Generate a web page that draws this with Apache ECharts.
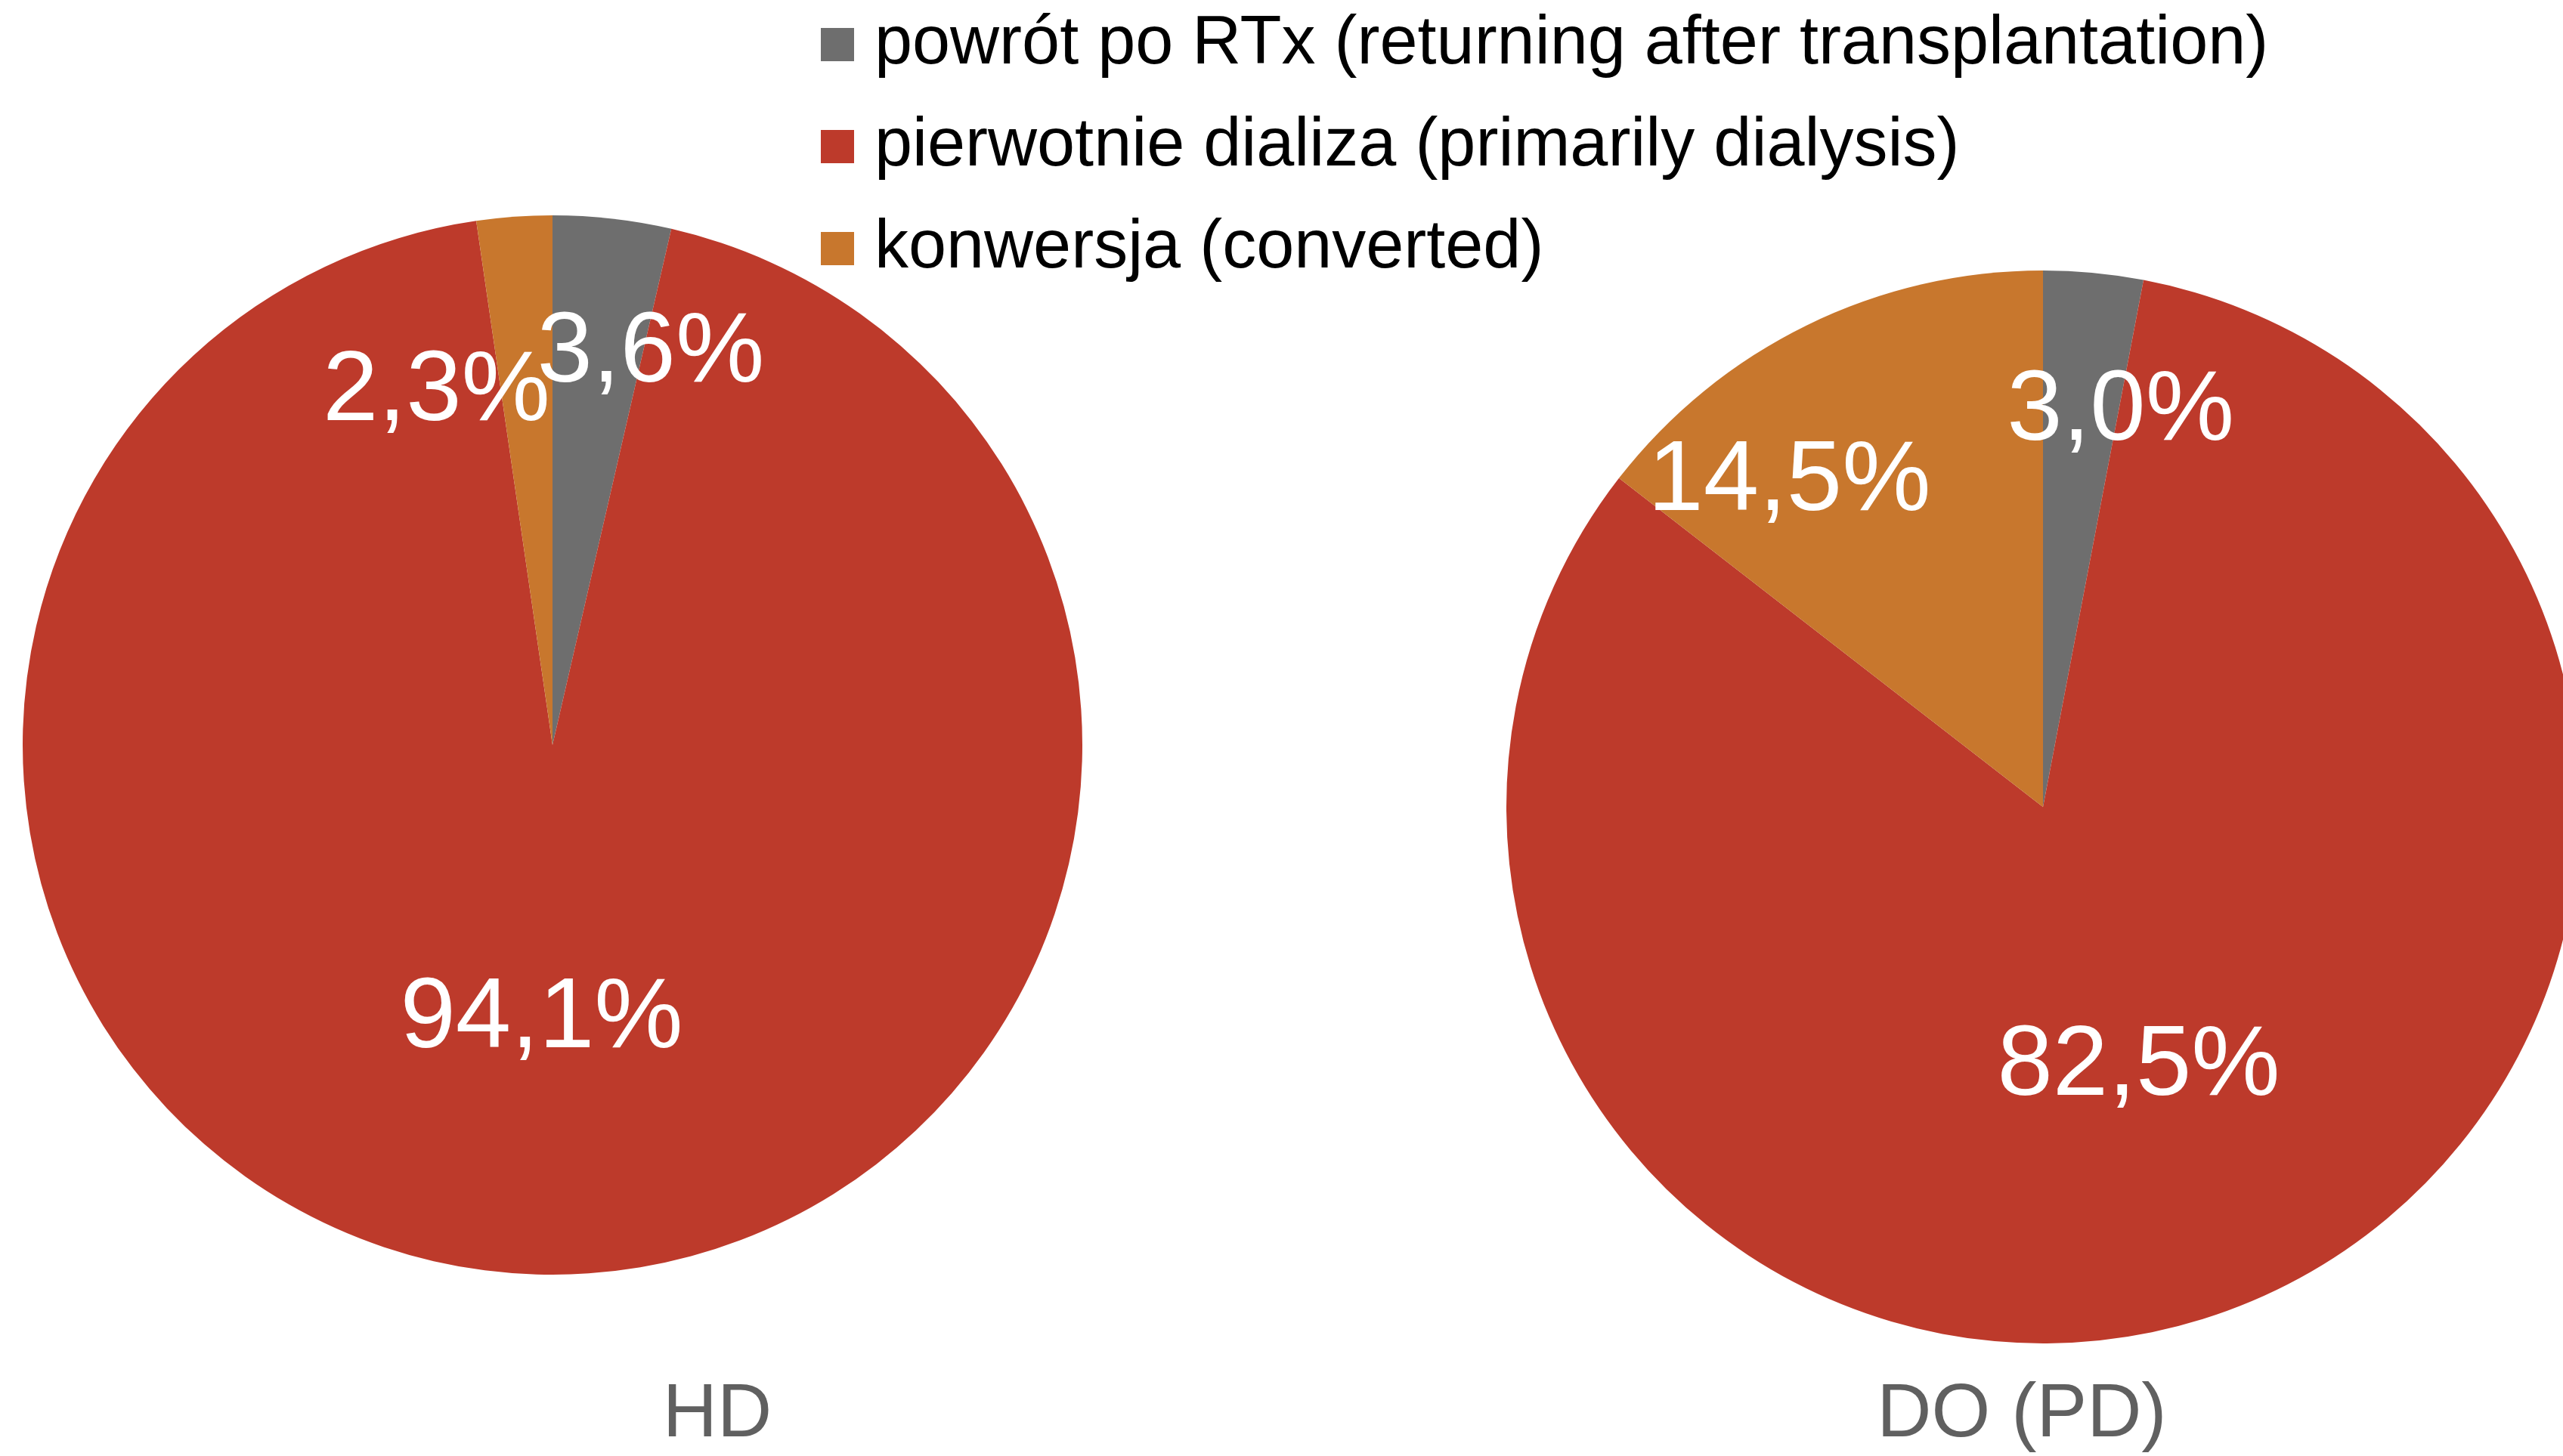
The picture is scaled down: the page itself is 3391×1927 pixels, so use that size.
<!DOCTYPE html>
<html>
<head>
<meta charset="utf-8">
<title>HD / DO (PD)</title>
<script src="https://cdn.jsdelivr.net/npm/echarts@6/dist/echarts.min.js"></script>
<style>
  html, body { margin: 0; padding: 0; background: #fff; }
  #chart { width: 3391px; height: 1927px; }
</style>
</head>
<body>
<div id="chart"></div>
<script>
// categories (legend order = slice order, clockwise from 12 o'clock)
var categories = [
  'powrót po RTx (returning after transplantation)',
  'pierwotnie dializa (primarily dialysis)',
  'konwersja (converted)'
];
var colors = ['#6e6e6e', '#bd3a2b', '#c8772d'];

// values in %
var hdValues = [3.6, 94.1, 2.3];
var pdValues = [3.0, 82.5, 14.5];

var pieTitles = ['HD', 'DO (PD)'];

// label nudges, like the source chart (small slices pushed apart)
var hdLabelOffsets = [[90, -166], [0, 10], [-128, -114]];
var pdLabelOffsets = [[69, -166], [0, 10], [-178, -108]];

function buildData (values, offsets) {
  return values.map(function (v, i) {
    return {
      name: categories[i],
      value: v,
      itemStyle: { color: colors[i] },
      label: { offset: offsets[i] }
    }
  })
}

function fmt (p) {
  return p.value.toFixed(1).replace('.', ',') + '%'
}

var FONT = '"Liberation Sans", Arial, Helvetica, sans-serif'

var pieBase = {
  type: 'pie',
  startAngle: 90,
  clockwise: true,
  avoidLabelOverlap: false,
  minShowLabelAngle: 0,
  silent: true,
  label: {
    show: true,
    position: 'inside',
    formatter: fmt,
    color: '#ffffff',
    fontSize: 132,
    fontFamily: FONT,
    overflow: 'none'
  },
  labelLayout: { hideOverlap: false },
  labelLine: { show: false },
  itemStyle: { borderWidth: 0 }
}

var chart = echarts.init(document.getElementById('chart'), null, { renderer: 'canvas' })

chart.setOption({
  animation: false,
  backgroundColor: '#ffffff',
  title: [
    {
      text: pieTitles[0],
      left: 944,
      top: 1818,
      textAlign: 'center',
      textStyle: { color: '#606060', fontSize: 100, fontWeight: 'normal', fontFamily: FONT }
    },
    {
      text: pieTitles[1],
      left: 2670,
      top: 1818,
      textAlign: 'center',
      textStyle: { color: '#606060', fontSize: 100, fontWeight: 'normal', fontFamily: FONT }
    }
  ],
  legend: {
    data: categories,
    orient: 'vertical',
    left: 1081,
    top: 9,
    icon: 'rect',
    itemWidth: 44,
    itemHeight: 44,
    itemGap: 45,
    selectedMode: false,
    textStyle: {
      color: '#000000',
      fontSize: 90,
      lineHeight: 90,
      fontFamily: FONT,
      padding: [0, 0, 0, 22]
    }
  },
  series: [
    Object.assign({}, pieBase, {
      name: pieTitles[0],
      center: [731, 986],
      radius: 701,
      data: buildData(hdValues, hdLabelOffsets)
    }),
    Object.assign({}, pieBase, {
      name: pieTitles[1],
      center: [2703, 1068],
      radius: 710,
      data: buildData(pdValues, pdLabelOffsets)
    })
  ]
})
</script>
</body>
</html>
